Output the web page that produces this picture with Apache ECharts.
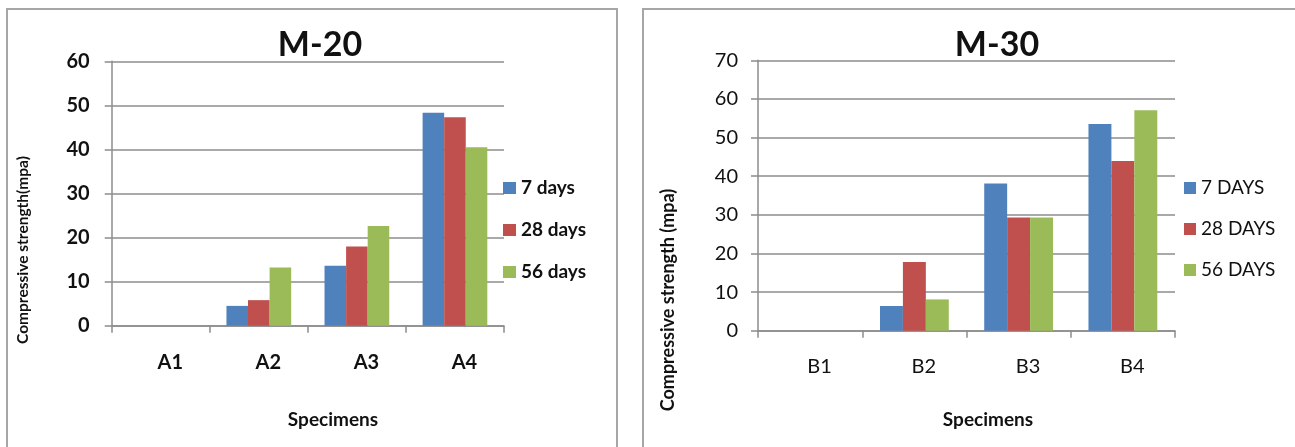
<!DOCTYPE html>
<html>
<head>
<meta charset="utf-8">
<script src="https://cdn.jsdelivr.net/npm/echarts@6/dist/echarts.min.js"></script>
<style>
  html, body { margin: 0; padding: 0; background: #ffffff; }
  #chart { width: 1295px; height: 447px; }
</style>
</head>
<body>
<div id="chart"></div>
<script>
// Compressive strength (MPa) of the M-20 and M-30 specimens at 7, 28 and 56 days
const categoriesM20 = ['A1', 'A2', 'A3', 'A4'];
const m20Day7  = [0, 4.5, 13.6, 48.3];
const m20Day28 = [0, 5.8, 18.0, 47.3];
const m20Day56 = [0, 13.2, 22.6, 40.5];

const categoriesM30 = ['B1', 'B2', 'B3', 'B4'];
const m30Day7  = [0, 6.4, 38.1, 53.5];
const m30Day28 = [0, 17.8, 29.3, 43.9];
const m30Day56 = [0, 8.1, 29.3, 57.1];

const m20Ticks = { min: 0, max: 60, interval: 10 };
const m30Ticks = { min: 0, max: 70, interval: 10 };

const namesM20 = ['7 days', '28 days', '56 days'];
const namesM30 = ['7 DAYS', '28 DAYS', '56 DAYS'];
const colors = ['#4F81BD', '#C0504D', '#9BBB59'];

const FONT = 'Lato, "Liberation Sans", sans-serif';
const GRID_GRAY = '#8c8c8c';

const chart = echarts.init(document.getElementById('chart'), null, { renderer: 'canvas' });

function yAxisFor(gridIndex, ticks, bold, margin) {
  return {
    type: 'value', gridIndex: gridIndex,
    min: ticks.min, max: ticks.max, interval: ticks.interval,
    axisLine: { show: true, lineStyle: { color: GRID_GRAY, width: 1.5 } },
    axisTick: { show: true, inside: false, length: 7, lineStyle: { color: GRID_GRAY, width: 1.5 } },
    splitLine: { show: true, lineStyle: { color: GRID_GRAY, width: 1.5 } },
    axisLabel: { margin: margin, color: '#111', fontFamily: FONT, fontSize: 20, fontWeight: bold ? 'bold' : 'normal' }
  };
}

function xAxisFor(gridIndex, cats, bold, margin) {
  return {
    type: 'category', gridIndex: gridIndex, data: cats, boundaryGap: true,
    axisLine: { show: true, onZero: false, lineStyle: { color: GRID_GRAY, width: 1.5 } },
    axisTick: { show: true, alignWithLabel: false, length: 7, lineStyle: { color: GRID_GRAY, width: 1.5 } },
    axisLabel: {
      margin: margin, color: '#111', fontFamily: FONT, fontSize: 20,
      fontWeight: bold ? 'bold' : 'normal', padding: [0, 0, 0, 19]
    }
  };
}

function barSeries(name, data, idx, colorIdx) {
  return {
    type: 'bar', name: name, data: data,
    xAxisIndex: idx, yAxisIndex: idx,
    barGap: '0%', barCategoryGap: '34%',
    itemStyle: { color: colors[colorIdx] },
    emphasis: { disabled: true },
    animation: false
  };
}

function label(text, x, y, size, bold, rotate) {
  return {
    type: 'text', x: x, y: y, rotation: rotate ? Math.PI / 2 : 0,
    style: {
      text: text, fill: '#111', font: (bold ? 'bold ' : '') + size + 'px ' + FONT,
      textAlign: 'center', textVerticalAlign: 'middle'
    },
    z: 10
  };
}

const option = {
  animation: false,
  backgroundColor: '#ffffff',
  grid: [
    { left: 111.7, top: 61.3, width: 392.3, height: 264.4, containLabel: false },
    { left: 758, top: 60.3, width: 417, height: 270.4, containLabel: false }
  ],
  xAxis: [xAxisFor(0, categoriesM20, true, 27), xAxisFor(1, categoriesM30, false, 26)],
  yAxis: [yAxisFor(0, m20Ticks, true, 22), yAxisFor(1, m30Ticks, false, 20)],
  legend: [
    {
      data: namesM20, orient: 'vertical', left: 498, top: 173,
      itemWidth: 13, itemHeight: 12, itemGap: 22, icon: 'rect',
      textStyle: { fontFamily: FONT, fontSize: 19, fontWeight: 'bold', color: '#111', lineHeight: 20 },
      selectedMode: false
    },
    {
      data: namesM30, orient: 'vertical', left: 1179, top: 173,
      itemWidth: 12, itemHeight: 12, itemGap: 21, icon: 'rect',
      textStyle: { fontFamily: FONT, fontSize: 19, color: '#111', lineHeight: 20 },
      selectedMode: false
    }
  ],
  series: [
    barSeries(namesM20[0], m20Day7, 0, 0),
    barSeries(namesM20[1], m20Day28, 0, 1),
    barSeries(namesM20[2], m20Day56, 0, 2),
    barSeries(namesM30[0], m30Day7, 1, 0),
    barSeries(namesM30[1], m30Day28, 1, 1),
    barSeries(namesM30[2], m30Day56, 1, 2)
  ],
  graphic: [
    // panel frames
    { type: 'rect', shape: { x: 7, y: 9, width: 610, height: 460 },
      style: { fill: null, stroke: '#a6a6a6', lineWidth: 2 }, z: 0 },
    { type: 'rect', shape: { x: 643, y: 9, width: 670, height: 460 },
      style: { fill: null, stroke: '#a6a6a6', lineWidth: 2 }, z: 0 },
    // titles
    label('M-20', 320, 45, 34, true, false),
    label('M-30', 997, 45, 34, true, false),
    // axis names
    label('Specimens', 333, 420, 19, true, false),
    label('Specimens', 988, 420, 19, true, false),
    label('Compressive strength(mpa)', 23, 250, 15.5, true, true),
    label('Compressive strength (mpa)', 668, 300, 18, true, true)
  ]
};

chart.setOption(option);
</script>
</body>
</html>
